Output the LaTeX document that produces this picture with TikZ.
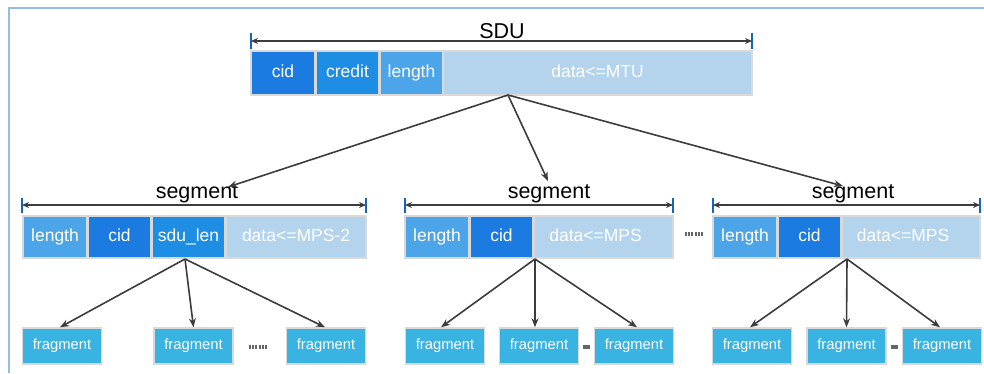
\documentclass[tikz,border=0pt]{standalone}
\usepackage{fontspec}
\setmainfont{Liberation Sans}
\usetikzlibrary{arrows.meta,calc}
\definecolor{cidc}{HTML}{1C7BE0}
\definecolor{credc}{HTML}{1E8EE5}
\definecolor{lenc}{HTML}{4BA5E8}
\definecolor{datac}{HTML}{B3D4EC}
\definecolor{fragc}{HTML}{38B3E2}
\definecolor{cellb}{HTML}{D9D9D9}
\definecolor{tickc}{HTML}{1565C0}
\definecolor{linec}{HTML}{3C3C3C}
\definecolor{framec}{HTML}{92BEE6}
\definecolor{dotc}{HTML}{666666}
\tikzset{
  cell/.style={draw=cellb, line width=1.5pt, text=white, inner sep=0pt,
    font=\fontsize{17.5}{20}\selectfont, text height=12.6pt, text depth=3.6pt, minimum height=#1},
  frag/.style={draw=cellb, line width=1.5pt, fill=fragc, text=white, inner sep=0pt,
    font=\fontsize{14.8}{17}\selectfont, text height=10.6pt, text depth=3pt, minimum width=79pt, minimum height=36pt},
  dimline/.style={draw=linec, line width=1.6pt, {Stealth[length=7pt,width=6pt]}-{Stealth[length=7pt,width=6pt]}},
  tick/.style={draw=tickc, line width=2pt},
  conn/.style={draw=linec, line width=1.6pt, -{Stealth[length=9pt,width=7pt]}},
  dimlabel/.style={font=\fontsize{21.5}{24}\selectfont, inner sep=0pt, anchor=base},
  dots/.style={draw=dotc, line width=3.5pt, dash pattern=on 2pt off 1.2pt},
}
\begin{document}
\begin{tikzpicture}[x=1pt,y=-1pt]
\useasboundingbox (0,0) rectangle (984,373);
\fill[white] (0,0) rectangle (984,373);
% frame
\draw[framec, line width=2pt] (9,373) -- (9,8) -- (984,8);

% SDU row
\node[cell=44pt, fill=cidc, minimum width=64pt] (scid) at (283,73) {cid};
\node[cell=44pt, fill=credc, minimum width=63pt] (scred) at (347.5,73) {credit};
\node[cell=44pt, fill=lenc, minimum width=63pt] (slen) at (411.5,73) {length};
\node[cell=44pt, fill=datac, minimum width=309pt] (sdata) at (597.5,73) {data<=MTU};
\coordinate (sdul) at (251,41);
\coordinate (sdur) at (752,41);
\draw[tick] (251,33) -- (251,49);
\draw[tick] (752,33) -- (752,49);
\draw[dimline] (sdul) -- (sdur);
\node[dimlabel] (sdulab) at (502,38) {SDU};

% segment 1
\node[cell=42pt, fill=lenc, minimum width=64pt] (alen) at (55,237) {length};
\node[cell=42pt, fill=cidc, minimum width=63pt] (acid) at (119.5,237) {cid};
\node[cell=42pt, fill=credc, minimum width=73pt] (asdu) at (188.5,237) {sdu\_len};
\node[cell=42pt, fill=datac, minimum width=140pt] (adata) at (296,237) {data<=MPS-2};
\coordinate (al) at (22,205);
\coordinate (ar) at (366,205);
\draw[tick] (22,198) -- (22,213);
\draw[tick] (366,198) -- (366,213);
\draw[dimline] (al) -- (ar);
\node[dimlabel] (alab) at (197,198.5) {segment};

% segment 2
\node[cell=42pt, fill=lenc, minimum width=64pt] (blen) at (437,237) {length};
\node[cell=42pt, fill=cidc, minimum width=63pt] (bcid) at (501.5,237) {cid};
\node[cell=42pt, fill=datac, minimum width=139pt] (bdata) at (603.5,237) {data<=MPS\hspace*{16pt}};
\coordinate (bl) at (405,205);
\coordinate (br) at (673,205);
\draw[tick] (405,198) -- (405,213);
\draw[tick] (673,198) -- (673,213);
\draw[dimline] (bl) -- (br);
\node[dimlabel] (blab) at (549,198.5) {segment};

% segment 3
\node[cell=42pt, fill=lenc, minimum width=64pt] (clen) at (745,237) {length};
\node[cell=42pt, fill=cidc, minimum width=63pt] (ccid) at (809.5,237) {cid};
\node[cell=42pt, fill=datac, minimum width=138pt] (cdata) at (911,237) {data<=MPS\hspace*{16pt}};
\coordinate (cl) at (713,205);
\coordinate (cr) at (980,205);
\draw[tick] (713,198) -- (713,213);
\draw[tick] (980,198) -- (980,213);
\draw[dimline] (cl) -- (cr);
\node[dimlabel] (clab) at (853,198.5) {segment};

% dots between segments
\draw[dots] (685,234) -- (703,234);

% SDU to segments
\coordinate (so) at (508,95);
\coordinate (ta) at (228,187);
\coordinate (tb) at (548,181);
\coordinate (tc) at (843,186);
\draw[conn] (so) -- (ta);
\draw[conn] (so) -- (tb);
\draw[conn] (so) -- (tc);

% fragments
\node[frag] (a1) at (62,346) {fragment};
\node[frag] (a2) at (193.5,346) {fragment};
\node[frag] (a3) at (326,346) {fragment};
\node[frag] (b1) at (445,346) {fragment};
\node[frag] (b2) at (539,346) {fragment};
\node[frag] (b3) at (634,346) {fragment};
\node[frag] (c1) at (752,346) {fragment};
\node[frag] (c2) at (846.5,346) {fragment};
\node[frag] (c3) at (942,346) {fragment};
\draw[dots] (249,347) -- (268,347);
\draw[dotc, line width=3.5pt] (583,347) -- (590,347);
\draw[dotc, line width=3.5pt] (891,347) -- (898,347);

% segment to fragments
\coordinate (ao) at (185,259);
\coordinate (bo) at (535,259);
\coordinate (co) at (847,259);
\draw[conn] (ao) -- ($(a1.north)+(-2,0)$);
\draw[conn] (ao) -- (a2.north);
\draw[conn] (ao) -- ($(a3.north)+(-1,0)$);
\draw[conn] (bo) -- ($(b1.north)+(-4,0)$);
\draw[conn] (bo) -- ($(b2.north)+(-4,0)$);
\draw[conn] (bo) -- ($(b3.north)+(3,0)$);
\draw[conn] (co) -- ($(c1.north)+(-2,0)$);
\draw[conn] (co) -- (c2.north);
\draw[conn] (co) -- ($(c3.north)+(-2,0)$);
\end{tikzpicture}
\end{document}
